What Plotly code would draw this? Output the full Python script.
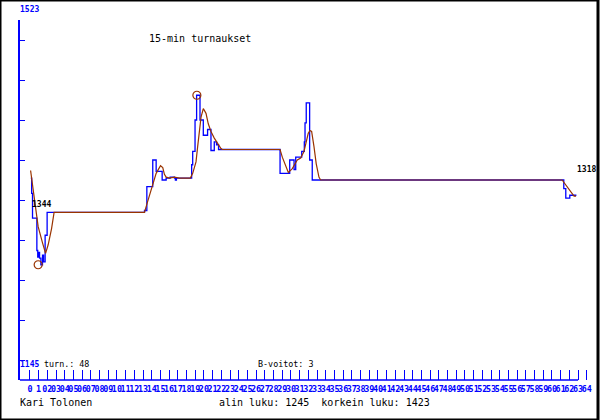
import plotly.graph_objects as go

# ---- data (x in tick units, y in price) ----
y_top = 1523
y_bottom = 1145
y_step = 42
turns = 48
b_wins = 3
low_val = 1245
high_val = 1423
author = "Kari Tolonen"
title_text = "15-min turnaukset"

tick_index = list(range(0, 65))
tick_labels = ["0", "1"] + [f"{i:02d}" for i in range(2, 65)]

blue_t = [0.1, 0.2, 0.3, 0.8, 0.9, 1.0, 1.11, 1.26, 1.45, 1.57,
          1.75, 1.98, 13.17, 13.44, 14.12, 14.51, 15.2, 15.66, 16.12, 16.61,
          16.72, 16.84, 18.59, 18.71, 18.98, 19.16, 19.55, 19.93, 20.42, 20.81,
          21.19, 21.45, 21.68, 28.75, 29.86, 30.36, 30.55, 31.24, 31.54, 31.62,
          31.76, 32.15, 32.45, 61.36, 61.59, 62.05, 62.81]
blue_v = [1336, 1320, 1294, 1260, 1253, 1258, 1252, 1245, 1255, 1248,
          1276, 1300, 1302, 1327, 1355, 1343, 1334, 1336, 1337, 1336,
          1334, 1336, 1350, 1364, 1397, 1423, 1397, 1381, 1387, 1365,
          1374, 1371, 1366, 1341, 1355, 1345, 1358, 1364, 1374, 1394,
          1415, 1355, 1334, 1325, 1315, 1318, 1318]

brown_t = [0.08, 0.38, 0.69, 0.95, 1.45, 1.8, 2.1, 2.49, 2.78, 13.17,
           13.52, 13.94, 14.2, 14.51, 15.01, 15.27, 15.46, 15.66, 16.04, 16.61,
           17.18, 18.44, 18.71, 19.09, 19.28, 19.47, 19.67, 19.93, 20.24, 20.5,
           20.81, 21.19, 21.57, 21.96, 22.11, 28.75, 29.01, 29.4, 29.7, 30.16,
           30.73, 31.12, 31.5, 31.76, 31.99, 32.19, 32.38, 32.65, 32.91, 33.22,
           33.41, 61.17, 62.54, 62.77]
brown_v = [1344, 1324, 1302, 1285, 1268, 1257, 1266, 1283, 1300, 1300,
           1311, 1324, 1334, 1341, 1349, 1347, 1340, 1337, 1336, 1337,
           1336, 1336, 1341, 1353, 1369, 1388, 1400, 1409, 1404, 1393,
           1385, 1378, 1372, 1367, 1366, 1366, 1358, 1350, 1342, 1346,
           1355, 1357, 1364, 1374, 1383, 1386, 1385, 1369, 1351, 1337,
           1334, 1334, 1317, 1317]

extreme_t = [0.95, 19.19]
extreme_v = [low_val, high_val]

BLUE = "#0000ff"
BROWN = "#993300"
W, H = 600, 420
MONO = "DejaVu Sans Mono"

# axis geometry
x_range = [-1.1455, 64.376]
x_dom = [20 / W, 592 / W]
y_range = [1124, 1502]
y_dom = [40 / H, 400 / H]
y_ticks = list(range(y_bottom, y_top - y_step + 1, y_step))

fig = go.Figure()
fig.add_trace(go.Scatter(x=blue_t, y=blue_v, mode="lines", line_shape="hv",
                         line=dict(color=BLUE, width=1.3), hoverinfo="skip"))
fig.add_trace(go.Scatter(x=brown_t, y=brown_v, mode="lines",
                         line=dict(color=BROWN, width=1.2), hoverinfo="skip"))
fig.add_trace(go.Scatter(x=extreme_t, y=extreme_v, mode="markers",
                         marker=dict(symbol="circle-open", size=8, color=BROWN,
                                     line=dict(width=1.2, color=BROWN)),
                         cliponaxis=False, hoverinfo="skip"))

# baseline of x axis ends at tick 63
last_axis_tick = 63
bx1 = x_dom[0] + (last_axis_tick - x_range[0]) / (x_range[1] - x_range[0]) * (x_dom[1] - x_dom[0])

def ann(text, px, py, size=8, color="black", bold=False):
    return dict(text=(f"<b>{text}</b>" if bold else text), x=px / W, y=1 - py / H,
                xref="paper", yref="paper", xanchor="left", yanchor="middle",
                showarrow=False, font=dict(family=MONO, size=size, color=color),
                borderpad=0)

annotations = [
    ann(title_text, 148, 38, size=10),
    ann(str(y_top), 19, 9, size=8, color=BLUE, bold=True),
    ann(str(y_bottom), 19, 364, size=8, color=BLUE, bold=True),
    ann(f"turn.: {turns}", 43, 364, size=8.4),
    ann(f"B-voitot: {b_wins}", 258, 364, size=8.4),
    ann(author, 19, 402, size=10),
    ann(f"alin luku: {low_val}\u00a0 korkein luku: {high_val}", 219, 402, size=10),
    dict(text=f"<b>{brown_v[0]}</b>", x=brown_t[0], y=brown_v[0], xref="x", yref="y",
         xanchor="left", yanchor="middle", yshift=-34, showarrow=False,
         font=dict(family=MONO, size=8, color="black"), borderpad=0),
    dict(text=f"<b>{blue_v[-1]}</b>", x=blue_t[-1], y=blue_v[-1], xref="x", yref="y",
         xanchor="left", yanchor="middle", yshift=26, showarrow=False,
         font=dict(family=MONO, size=8, color="black"), borderpad=0),
]

shapes = [
    dict(type="line", xref="paper", yref="paper", x0=x_dom[0], x1=bx1,
         y0=y_dom[0], y1=y_dom[0], line=dict(color=BLUE, width=1.5)),
    dict(type="rect", xref="paper", yref="paper", x0=0, x1=1, y0=0, y1=1,
         line=dict(color="black", width=3)),
]

fig.update_layout(
    width=W, height=H, margin=dict(l=0, r=0, t=0, b=0),
    paper_bgcolor="white", plot_bgcolor="white", showlegend=False,
    xaxis=dict(domain=x_dom, range=x_range, showgrid=False, zeroline=False,
               showline=False, ticks="inside", ticklen=10, tickwidth=1,
               tickcolor=BLUE, tickvals=tick_index, ticktext=tick_labels,
               tickangle=0, ticklabelstandoff=3,
               tickfont=dict(family=MONO, size=8.4, color=BLUE, weight="bold"),
               fixedrange=True),
    yaxis=dict(domain=y_dom, range=y_range, showgrid=False, zeroline=False,
               showline=True, linecolor=BLUE, linewidth=1.5, ticks="inside",
               ticklen=5, tickwidth=1, tickcolor=BLUE, tickvals=y_ticks,
               showticklabels=False, fixedrange=True),
    annotations=annotations, shapes=shapes,
)

fig.write_html("out.html", config={"displayModeBar": False},
               post_script="document.body.style.margin='0';document.body.style.overflow='hidden';")
